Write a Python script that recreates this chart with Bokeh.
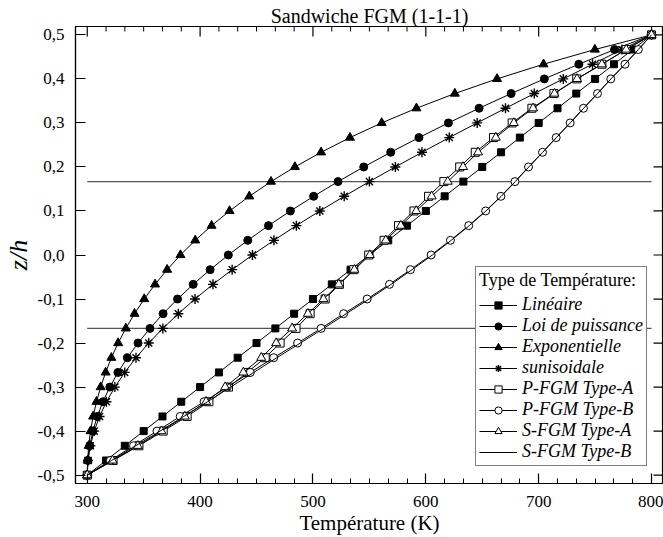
import math

from bokeh.plotting import figure
from bokeh.models import (Range1d, SingleIntervalTicker, FixedTicker,
                          CustomJSTickFormatter, Legend, LegendItem)
from bokeh.embed import file_html
from bokeh.resources import INLINE

# Positions through the thickness (z/h) at which the temperature is sampled
z = [-0.5, -0.4667, -0.4333, -0.4, -0.3667, -0.3333, -0.3, -0.2667, -0.2333, -0.2,
     -0.1667, -0.1333, -0.1, -0.0667, -0.0333, 0.0, 0.0333, 0.0667, 0.1, 0.1333,
     0.1667, 0.2, 0.2333, 0.2667, 0.3, 0.3333, 0.3667, 0.4, 0.4333, 0.4667, 0.5]

# Temperature (K) for each distribution type
t_lineaire = [300, 316.7, 333.3, 350, 366.7, 383.3, 400, 416.7, 433.3, 450, 466.7,
              483.3, 500, 516.7, 533.3, 550, 566.7, 583.3, 600, 616.7, 633.3,
              650, 666.7, 683.3, 700, 716.7, 733.3, 750, 766.7, 783.3, 800]
t_puissance = [300, 300.6, 302.2, 305.0, 308.9, 313.9, 320.0, 327.2, 335.6, 345.0, 355.6,
               367.2, 380.0, 393.9, 408.9, 425.0, 442.2, 460.6, 480.0, 500.6, 522.2,
               545.0, 568.9, 593.9, 620.0, 647.2, 675.6, 705.0, 735.6, 767.2, 800]
t_expo = [300, 300.3, 301.3, 302.9, 305.2, 308.2, 311.9, 316.3, 321.4, 327.4, 334.2,
          341.9, 350.5, 360.1, 370.8, 382.6, 395.7, 410.2, 426.1, 443.6, 462.8,
          484.0, 507.2, 532.8, 560.9, 591.7, 625.7, 663.1, 704.3, 749.8, 800]
t_sinus = [300, 300.7, 302.7, 306.2, 310.9, 317.0, 324.5, 333.2, 343.2, 354.5, 367.0,
           380.7, 395.5, 411.4, 428.4, 446.4, 465.4, 485.3, 506.1, 527.7, 550.0,
           573.0, 596.6, 620.8, 645.5, 670.6, 696.1, 721.8, 747.7, 773.8, 800]
t_pfgm_a = [300, 322.9, 345.8, 367.3, 388.5, 407.8, 425.2, 441.8, 457.7, 470.9, 485.0,
            497.5, 510.8, 523.4, 536.2, 549.4, 563.0, 575.8, 589.5, 602.4, 616.0,
            630.0, 643.8, 660.0, 676.5, 694.0, 713.5, 733.7, 756.0, 777.5, 800]
t_pfgm_b = [300, 320.5, 341.0, 361.8, 382.4, 403.5, 424.0, 444.5, 465.2, 486.4, 507.2,
            527.2, 548.0, 567.8, 586.4, 604.7, 621.8, 638.0, 653.0, 666.5, 679.0,
            691.0, 703.4, 715.5, 727.9, 739.7, 752.1, 763.9, 776.5, 788.3, 800]
t_sfgm_a = [300, 322.4, 344.8, 365.8, 386.5, 405.3, 422.2, 438.3, 454.2, 467.4, 481.5,
            495.5, 509.3, 522.9, 536.7, 550.4, 564.5, 577.8, 591.5, 605.2, 619.4,
            633.0, 646.3, 662.0, 678.0, 695.0, 714.0, 734.0, 756.0, 777.5, 800]
t_sfgm_b = [300, 321.5, 343.0, 364.5, 385.5, 406.5, 427.0, 447.5, 468.0, 488.8, 509.5,
            529.5, 549.8, 569.3, 587.8, 605.8, 622.5, 638.5, 653.3, 666.8, 679.3,
            691.3, 703.6, 715.7, 728.0, 739.8, 752.2, 764.0, 776.5, 788.3, 800]

# Face-sheet / core interfaces of the (1-1-1) sandwich
interfaces = [-1 / 6, 1 / 6]
t_span = [300, 800]

# Tick positions
x_major = [300, 400, 500, 600, 700, 800]
y_major = [-0.5, -0.4, -0.3, -0.2, -0.1, 0.0, 0.1, 0.2, 0.3, 0.4, 0.5]

FONT = "Liberation Serif"
INK = "black"

X0, X1 = 289.6, 810.6
Y0, Y1 = -0.519, 0.519

p = figure(width=663, height=537, output_backend="svg", toolbar_location=None,
           x_range=Range1d(X0, X1), y_range=Range1d(Y0, Y1),
           min_border_left=75, min_border_right=0, min_border_top=26,
           min_border_bottom=54, background_fill_color="white",
           border_fill_color="white")
p.grid.visible = False
p.outline_line_color = INK
p.outline_line_width = 1.2

p.title.text = "Sandwiche FGM (1-1-1)"
p.title.align = "center"
p.title.text_font = FONT
p.title.text_font_size = "20px"
p.title.text_font_style = "normal"
p.title.text_color = INK
p.title.standoff = 0
p.title.offset = 6

p.axis.major_tick_in = 10
p.axis.major_tick_out = 0
p.axis.minor_tick_in = 5
p.axis.minor_tick_out = 0
p.axis.axis_line_width = 1.2
p.axis.major_tick_line_width = 1.2
p.axis.major_label_text_font = FONT
p.axis.major_label_text_font_size = "17px"
p.axis.major_label_text_color = INK
p.axis.axis_label_text_font = FONT
p.axis.axis_label_text_color = INK
p.axis.major_label_standoff = 11

p.xaxis.ticker = SingleIntervalTicker(interval=100, num_minor_ticks=6)
p.xaxis.major_label_standoff = 12
p.xaxis.axis_label = "Température (K)"
p.xaxis.axis_label_text_font_size = "21px"
p.xaxis.axis_label_text_font_style = "normal"
p.xaxis.axis_label_standoff = 1

p.yaxis.ticker = FixedTicker(ticks=y_major, minor_ticks=[])
p.yaxis.formatter = CustomJSTickFormatter(code="return tick.toFixed(1).replace('.', ',');")
p.yaxis.axis_label = "z/h"
p.yaxis.axis_label_text_font_size = "26px"
p.yaxis.axis_label_text_font_style = "italic"
p.yaxis.axis_label_standoff = 2

# Mirrored inward ticks on the top and right edges of the frame
step = 100 / 6
x_minor = [x_major[0] - 100 + i * step for i in range(0, 43) if i % 6]
x_minor = [v for v in x_minor if X0 < v < X1]
p.ray(x=x_major, y=[Y1] * len(x_major), length=10, length_units="screen",
      angle=-math.pi / 2, line_color=INK, line_width=1.2)
p.ray(x=x_minor, y=[Y1] * len(x_minor), length=5, length_units="screen",
      angle=-math.pi / 2, line_color=INK, line_width=1)
p.ray(x=[X1] * len(y_major), y=y_major, length=10, length_units="screen",
      angle=math.pi, line_color=INK, line_width=1.2)

# Interface lines
for zi in interfaces:
    p.line(t_span, [zi, zi], line_color="#555555", line_width=1.4)

# (label, temperatures, marker, size, fill, marker outline width)
series = [
    ("Linéaire", t_lineaire, "square", 7, INK, 1),
    ("Loi de puissance", t_puissance, "circle", 8, INK, 1),
    ("Exponentielle", t_expo, "triangle", 9, INK, 1),
    ("sunisoidale", t_sinus, "asterisk", 10, INK, 1.4),
    ("P-FGM Type-A", t_pfgm_a, "square", 8, "white", 1),
    ("P-FGM Type-B", t_pfgm_b, "circle", 8, "white", 1),
    ("S-FGM Type-A", t_sfgm_a, "triangle", 9, "white", 1),
]

items = []
for name, temps, marker, size, fill, lw in series:
    ln = p.line(temps, z, line_color=INK, line_width=1)
    sc = p.scatter(temps, z, marker=marker, size=size, fill_color=fill,
                   line_color=INK, line_width=lw)
    items.append(LegendItem(label=name, renderers=[ln, sc]))

ln_b = p.line(t_sfgm_b, z, line_color=INK, line_width=1)
items.append(LegendItem(label="S-FGM Type-B", renderers=[ln_b]))

legend = Legend(items=items, location=(400, 17), title="Type de Température:",
                border_line_color=INK, border_line_width=1.2,
                background_fill_color="white", background_fill_alpha=1.0,
                label_text_font=FONT, label_text_font_style="italic",
                label_text_font_size="18px", label_text_color=INK,
                title_text_font=FONT, title_text_font_style="normal",
                title_text_font_size="18px", title_text_color=INK,
                glyph_width=38, glyph_height=18, label_height=18, spacing=0,
                padding=3, margin=0, label_standoff=5, title_standoff=3)
p.add_layout(legend)

open("out.html", "w").write(file_html(p, INLINE))
